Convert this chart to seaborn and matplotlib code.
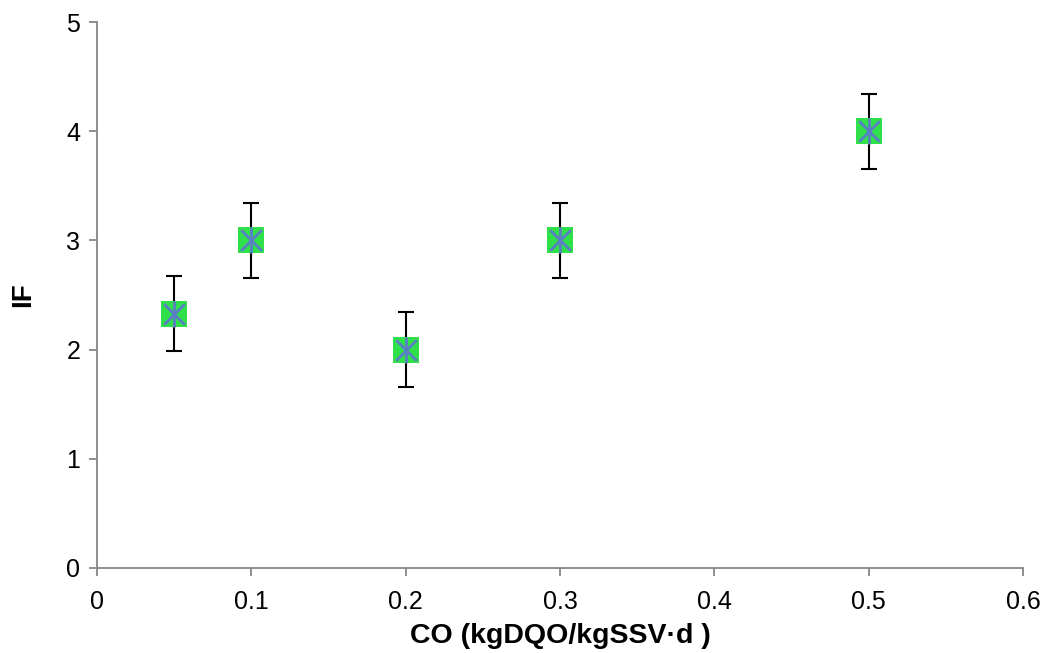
import numpy as np
import pandas as pd
import matplotlib
matplotlib.use("Agg")
import matplotlib.pyplot as plt
import seaborn as sns

# data
co = [0.05, 0.1, 0.2, 0.3, 0.5]
iface = [2.33, 3.0, 2.0, 3.0, 4.0]
err = [0.345, 0.345, 0.345, 0.345, 0.345]

df = pd.DataFrame({"CO": co, "IF": iface})

sns.set_style("white")
plt.rcParams['font.family'] = ['Liberation Sans', 'DejaVu Sans']
plt.rcParams['text.color'] = 'black'
plt.rcParams['axes.labelcolor'] = 'black'
plt.rcParams['xtick.labelcolor'] = 'black'
plt.rcParams['ytick.labelcolor'] = 'black'

fig = plt.figure(figsize=(10.46, 6.53), dpi=100)
ax = fig.add_axes([0.0927, 0.1302, 0.8853, 0.8361])

ax.errorbar(df["CO"], df["IF"], yerr=err, fmt="none", ecolor="black",
            elinewidth=1.5, capsize=6, capthick=1.5, zorder=2)
sns.scatterplot(data=df, x="CO", y="IF", marker="s", s=340, color="#2fe04a",
                edgecolor="#2fe04a", linewidth=0, ax=ax, zorder=3)
sns.scatterplot(data=df, x="CO", y="IF", marker="x", s=220, color="#5b7fc4",
                linewidth=2, ax=ax, zorder=4)
sns.scatterplot(data=df, x="CO", y="IF", marker="|", s=340, color="#5b7fc4",
                linewidth=2, ax=ax, zorder=4)

ax.set_xlim(0, 0.6)
ax.set_ylim(0, 5)
ax.set_xticks(np.arange(0, 0.61, 0.1))
ax.set_xticklabels(["0", "0.1", "0.2", "0.3", "0.4", "0.5", "0.6"])
ax.set_yticks(range(6))

for s in ["top", "right"]:
    ax.spines[s].set_visible(False)
for s in ["left", "bottom"]:
    ax.spines[s].set_color("#868686")
    ax.spines[s].set_linewidth(1.3)

ax.tick_params(axis="both", direction="out", length=6, width=1.3,
               color="#868686", labelsize=18, bottom=True, left=True, pad=6)
ax.tick_params(axis="x", pad=10)
ax.set_xlabel("CO (kgDQO/kgSSV·d )", fontsize=20.5, fontweight="bold", labelpad=6)
ax.set_ylabel("IF", fontsize=20, fontweight="bold", labelpad=22)

fig.savefig("out.png", dpi=100)
